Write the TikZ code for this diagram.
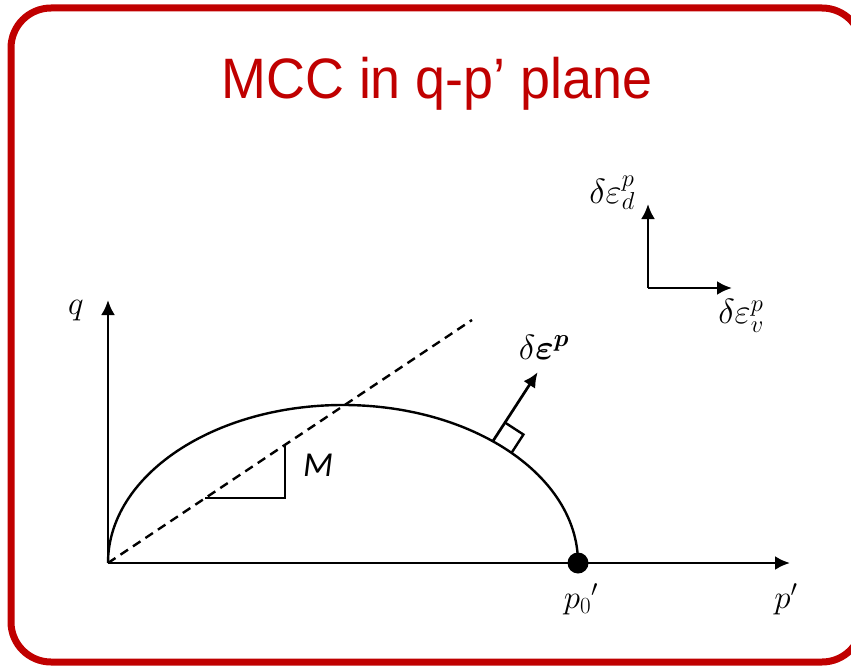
\RequirePackage{fix-cm}
\documentclass[tikz,border=0pt]{standalone}
\usepackage{fontspec}
\usepackage{bm}
\usetikzlibrary{arrows.meta}
\newfontfamily\titlefont{Liberation Sans}
\newfontfamily\mfont{Carlito}
\definecolor{frameRed}{HTML}{C00000}
\begin{document}
\begin{tikzpicture}[x=1pt,y=-1pt,
  axis/.style={line width=2.7pt,-{Latex[length=15pt,width=14pt]}},
  curve/.style={line width=2.4pt},
  lbl/.style={font=\fontsize{33}{35}\selectfont, inner sep=0pt},
  dlbl/.style={font=\fontsize{35}{37}\selectfont, inner sep=0pt}]
\useasboundingbox (0,0) rectangle (851,666);
% frame
\draw[frameRed, line width=7pt, rounded corners=40pt] (11,8) rectangle (862,662);
% title
\node[text=frameRed, font=\titlefont\fontsize{57}{60}\selectfont, anchor=base, inner sep=0pt] (title) at (437,99) {\scalebox{0.945}[1]{MCC in q-p’ plane}};
% main axes
\coordinate (O) at (108,563);
\coordinate (qend) at (108,300);
\coordinate (pend) at (790,563);
\draw[axis] (O) -- (qend);
\draw[axis] (O) -- (pend);
\node[lbl] (qlab) at (76,311) {$q$};
\node[lbl] (plab) at (786,599) {$p'$};
% yield ellipse (upper half)
\coordinate (P0) at (578,563);
\draw[curve] (O) arc[start angle=180, end angle=0, x radius=235, y radius=-158];
% CSL dashed
\coordinate (cslend) at (472,320);
\draw[curve, dash pattern=on 9pt off 6pt] (O) -- (cslend);
% slope triangle
\coordinate (t1) at (205,498);
\coordinate (t2) at (285,498);
\coordinate (t3) at (285,444);
\draw[curve] (t1) -- (t2) -- (t3);
\node[font=\mfont\itshape\fontsize{35}{37}\selectfont, inner sep=0pt] (Mlab) at (318,465) {M};
% p0 dot
\fill (P0) circle (10.5pt);
\node[lbl] (p0lab) at (581,599) {$p_0{}'$};
% normal arrow with right-angle mark
\coordinate (N) at (493,441);
\draw[axis] (N) -- ++(-57:82) coordinate (ntip);
\draw[curve] (N) ++(-57:22) coordinate (b1) -- ++(33:22) coordinate (b2) -- ++(123:22) coordinate (b3);
\node[dlbl] (dep) at (544,347) {$\delta\bm{\varepsilon}^{\bm{p}}$};
% small axes
\coordinate (C) at (648,288);
\draw[axis] (C) -- (648,204) coordinate (dtip);
\draw[axis] (C) -- (732,288) coordinate (vtip);
\node[dlbl] (dlab) at (612,193) {$\delta\varepsilon_d^p$};
\node[dlbl] (vlab) at (741,316) {$\delta\varepsilon_v^p$};
\end{tikzpicture}
\end{document}
